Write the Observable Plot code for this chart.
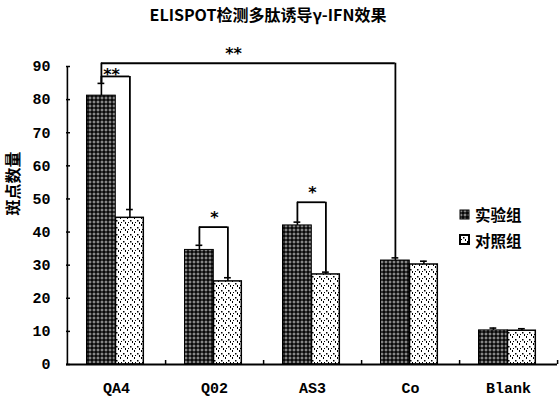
<!DOCTYPE html>
<html>
<head>
<meta charset="utf-8">
<script src="https://cdn.jsdelivr.net/npm/d3@7"></script>
<script src="https://cdn.jsdelivr.net/npm/@observablehq/plot@0.6"></script>
<style>
  body { margin: 0; background: #fff; }
  #wrap { position: relative; width: 560px; height: 398px; overflow: hidden; }
  #chart { position: absolute; left: 0; top: 0; }
  #title { position: absolute; left: 0; top: 0; width: 536px; text-align: center; z-index: 2;
           font: bold 16px "Noto Sans CJK SC", sans-serif; line-height: 28px; color: #000; }
  .lg { position: absolute; left: 459px; height: 25px; display: flex; align-items: center; z-index: 2;
        font: bold 15.5px "Noto Sans CJK SC", sans-serif; color: #000; }
  .lg svg { margin-right: 5px; }
</style>
</head>
<body>
<div id="wrap">
  <div id="chart"></div>
  <div id="title"></div>
  <div id="legend"></div>
</div>
<script>
// ---- data ----
const titleText = "ELISPOT检测多肽诱导γ-IFN效果";
const yLabel = "斑点数量";
const categories = ["QA4", "Q02", "AS3", "Co", "Blank"];
const groups = ["实验组", "对照组"];
const expValues = [81.2, 34.6, 42.0, 31.4, 10.3];
const expErrors = [3.7, 1.4, 1.0, 0.8, 0.7];
const ctrlValues = [44.3, 25.1, 27.2, 30.2, 10.2];
const ctrlErrors = [2.5, 1.1, 0.7, 1.0, 0.6];
const yTicks = [0, 10, 20, 30, 40, 50, 60, 70, 80, 90];
// significance within a category (实验组 vs 对照组)
const pairCategories = ["QA4", "Q02", "AS3"];
const pairLabels = ["**", "*", "*"];
const pairHeights = [87, 41.5, 49];
// significance across categories (实验组 QA4 vs 实验组 Co)
const crossFrom = "QA4";
const crossTo = "Co";
const crossLabel = "**";
const crossHeight = 91;

// ---- derived tables ----
const expRows = categories.map((c, i) => ({category: c, value: expValues[i], err: expErrors[i]}));
const ctrlRows = categories.map((c, i) => ({category: c, value: ctrlValues[i], err: ctrlErrors[i]}));
const idx = c => categories.indexOf(c);
const pairRows = pairCategories.map((c, i) => ({
  category: c, label: pairLabels[i], h: pairHeights[i],
  expTop: expValues[idx(c)] + expErrors[idx(c)],
  ctrlTop: ctrlValues[idx(c)] + ctrlErrors[idx(c)]
}));
const crossRows = [{
  from: crossFrom, to: crossTo, label: crossLabel, h: crossHeight,
  fromTop: expValues[idx(crossFrom)] + expErrors[idx(crossFrom)],
  toTop: expValues[idx(crossTo)] + expErrors[idx(crossTo)]
}];

// ---- layout constants ----
const W = 560, H = 398, mL = 66, mR = 3, mT = 66, mB = 34;
const band = (W - mL - mR) / categories.length;   // ~98.2
const expL = 19.5, expR = 48.5, ctrlL = 48.5, ctrlR = 76.5;
const expC = (expL + expR) / 2, ctrlC = (ctrlL + ctrlR) / 2;
const dxExp = expC - band / 2, dxCtrl = ctrlC - band / 2;
const frameH = H - mT - mB, frameW = W - mL - mR;
const capHalf = 3.5;
const cjk = "Noto Sans CJK SC";
const mono = "Liberation Mono";

document.getElementById("title").textContent = titleText;

const chart = Plot.plot({
  width: W, height: H,
  marginLeft: mL, marginRight: mR, marginTop: mT, marginBottom: mB,
  style: {fontFamily: mono, fontSize: "15px", fontWeight: "bold", color: "#000", background: "#fff", overflow: "visible"},
  x: {domain: categories, padding: 0, label: null, tickSize: 0, tickPadding: 18},
  y: {domain: [0, 90], ticks: yTicks, tickSize: 0, tickPadding: 16, label: null, tickFormat: d => String(d)},
  marks: [
    // bars
    Plot.barY(expRows, {x: "category", y: "value", fill: "url(#p-exp)", stroke: "#000", strokeWidth: 1,
      insetLeft: expL, insetRight: band - expR}),
    Plot.barY(ctrlRows, {x: "category", y: "value", fill: "url(#p-ctrl)", stroke: "#000", strokeWidth: 1.5,
      insetLeft: ctrlL, insetRight: band - ctrlR}),
    // error bars
    Plot.ruleX(expRows, {x: "category", y1: "value", y2: d => d.value + d.err, dx: dxExp, strokeWidth: 1.6}),
    Plot.tickY(expRows, {x: "category", y: d => d.value + d.err, insetLeft: expC - capHalf, insetRight: band - expC - capHalf, strokeWidth: 1.6}),
    Plot.ruleX(ctrlRows, {x: "category", y1: "value", y2: d => d.value + d.err, dx: dxCtrl, strokeWidth: 1.6}),
    Plot.tickY(ctrlRows, {x: "category", y: d => d.value + d.err, insetLeft: ctrlC - capHalf, insetRight: band - ctrlC - capHalf, strokeWidth: 1.6}),
    // axes lines and ticks
    Plot.ruleY([0], {strokeWidth: 2}),
    Plot.ruleX([categories[0]], {dx: -band / 2, strokeWidth: 1.6}),
    Plot.ruleX(categories, {dx: band / 2, insetTop: frameH - 4, strokeWidth: 1.5}),
    Plot.tickY(yTicks, {y: d => d, insetRight: frameW - 4, strokeWidth: 1.5}),
    // pair brackets
    Plot.ruleX(pairRows, {x: "category", y1: "expTop", y2: "h", dx: dxExp, strokeWidth: 1.8}),
    Plot.ruleX(pairRows, {x: "category", y1: "ctrlTop", y2: "h", dx: dxCtrl, strokeWidth: 1.8}),
    Plot.ruleY(pairRows, {x1: "category", x2: "category", y: "h", insetLeft: expC, insetRight: band - ctrlC, strokeWidth: 1.8}),
    Plot.text(pairRows.filter((d, i) => i === 0), {x: "category", y: "h", text: "label", dx: -5, dy: -2, fontSize: 16, fontFamily: "DejaVu Sans", fontWeight: "bold"}),
    Plot.text(pairRows.filter((d, i) => i > 0), {x: "category", y: "h", text: "label", dx: 0, dy: -9, fontSize: 16, fontFamily: "DejaVu Sans", fontWeight: "bold"}),
    // cross bracket
    Plot.ruleX(crossRows, {x: "from", y1: "fromTop", y2: "h", dx: dxExp, strokeWidth: 1.8}),
    Plot.ruleX(crossRows, {x: "to", y1: "toTop", y2: "h", dx: dxExp, strokeWidth: 1.8}),
    Plot.ruleY(crossRows, {x1: "from", x2: "to", y: "h", insetLeft: expC, insetRight: band - expC, strokeWidth: 2}),
    Plot.text(crossRows, {x: "from", y: "h", text: "label", dx: 117, dy: -9, fontSize: 16, fontFamily: "DejaVu Sans", fontWeight: "bold"}),
    // y label
    Plot.text([yLabel], {frameAnchor: "left", rotate: -90, dx: -53, fontSize: 16, fontFamily: cjk, fontWeight: "bold"})
  ]
});

// patterns
const NS = "http://www.w3.org/2000/svg";
const defs = document.createElementNS(NS, "defs");
defs.innerHTML = `
  <pattern id="p-exp" patternUnits="userSpaceOnUse" width="4" height="4">
    <rect width="4" height="4" fill="#0a0a0a"/>
    <circle cx="2" cy="2" r="1" fill="none" stroke="#fff" stroke-width="0.6"/>
  </pattern>
  <pattern id="p-ctrl" patternUnits="userSpaceOnUse" width="7" height="7">
    <rect width="7" height="7" fill="#fff"/>
    <rect x="1" y="0" width="1" height="2" fill="#000"/>
    <rect x="4" y="3" width="1.5" height="1.5" fill="#000"/>
    <rect x="6" y="5" width="1" height="2" fill="#000"/>
    <rect x="2" y="5" width="1" height="1" fill="#000"/>
  </pattern>`;
chart.insertBefore(defs, chart.firstChild);
document.getElementById("chart").appendChild(chart);

// legend
const legend = document.getElementById("legend");
const legendFills = ["url(#p-exp)", "url(#p-ctrl)"];
const legendTops = [201.5, 227];
groups.forEach((g, i) => {
  const row = document.createElement("div");
  row.className = "lg";
  row.style.top = legendTops[i] + "px";
  row.innerHTML = `<svg width="11" height="11"><rect x="1" y="1" width="9" height="9" fill="${legendFills[i]}" stroke="#000" stroke-width="${i ? 2 : 1}"/></svg><span>${g}</span>`;
  legend.appendChild(row);
});
</script>
</body>
</html>
